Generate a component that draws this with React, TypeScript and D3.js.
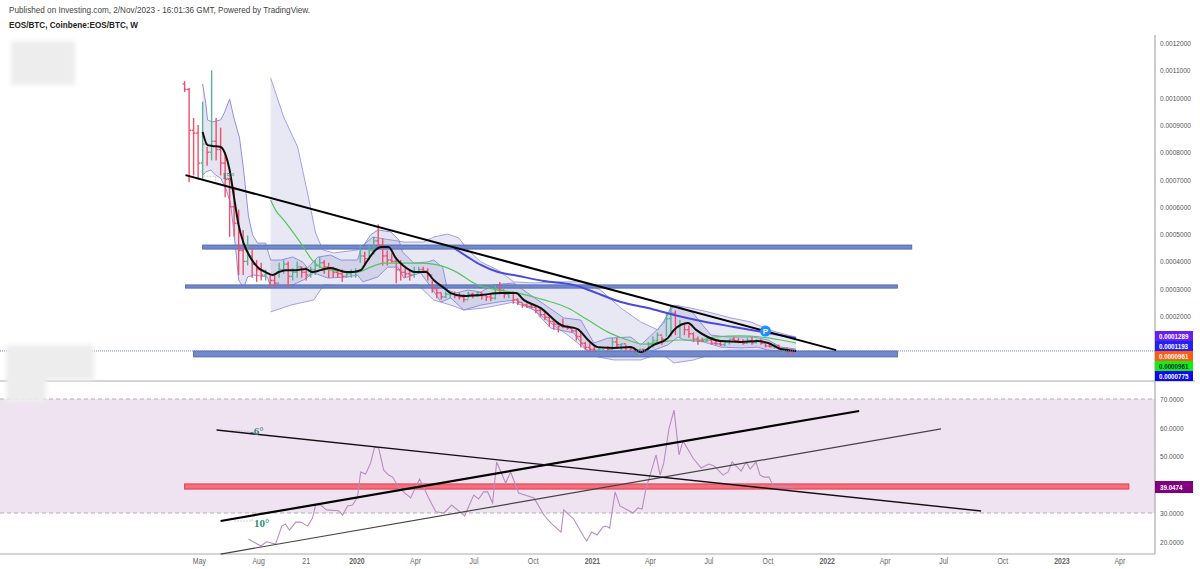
import * as d3 from 'd3';
import React from 'react';

// prices are in units of 0.0001 BTC, one bar per week from firstWeek
const firstWeek = new Date(2019, 3, 8);

const barHigh = [
  10.6, 10.35, 9.25, 9.0, 9.85, 8.2, 11.0, 9.25, 8.9, 8.0,
  7.05, 6.7, 5.9, 5.15, 4.95, 4.5, 4.05, 3.95, 3.7, 3.55,
  3.5, 3.95, 4.05, 4.0, 3.75, 4.0, 3.8, 3.8, 3.8, 4.05,
  4.15, 4.05, 3.95, 3.8, 3.7, 3.7, 3.65, 3.7, 3.75, 4.6,
  4.35, 4.6, 4.9, 5.35, 4.85, 4.4, 4.3, 4.15, 4.05, 3.75,
  3.7, 3.8, 3.8, 3.8, 3.75, 3.3, 3.05, 2.85, 2.9, 2.85,
  2.9, 2.85, 2.8, 2.9, 2.85, 2.9, 2.85, 2.8, 2.8, 3.15,
  3.25, 2.9, 2.9, 2.9, 2.65, 2.45, 2.45, 2.45, 2.4, 2.3,
  2.15, 1.95, 1.8, 1.65, 1.9, 1.65, 1.6, 1.5, 1.4, 1.05,
  1.0, 0.9, 0.85, 0.8, 0.9, 1.2, 1.2, 1.0, 0.95, 0.9,
  0.85, 0.8, 0.8, 1.05, 1.25, 1.4, 1.25, 2.15, 2.4, 2.2,
  1.85, 1.75, 1.65, 1.4, 1.25, 1.2, 1.2, 1.2, 1.15, 1.1,
  1.1, 1.15, 1.25, 1.2, 1.15, 1.2, 1.25, 1.15, 1.15, 1.05,
  1.0, 1.0, 0.95, 0.85, 0.8, 0.75,
];
const barLow = [
  10.2, 6.9, 7.15, 7.0, 7.0, 7.5, 7.7, 7.7, 7.15, 6.35,
  4.9, 4.9, 3.5, 3.5, 3.85, 3.4, 3.25, 3.3, 3.3, 3.05,
  3.05, 3.4, 3.55, 3.05, 3.3, 3.4, 3.4, 3.3, 3.4, 3.5,
  3.75, 3.55, 3.4, 3.4, 3.4, 3.25, 3.4, 3.4, 3.4, 3.95,
  3.85, 4.05, 4.25, 4.55, 3.85, 3.85, 3.95, 3.2, 3.3, 3.4,
  3.3, 3.4, 3.55, 3.6, 3.3, 2.85, 2.65, 2.6, 2.65, 2.65,
  2.65, 2.6, 2.5, 2.65, 2.65, 2.7, 2.6, 2.55, 2.55, 2.6,
  2.8, 2.65, 2.65, 2.45, 2.4, 2.3, 2.3, 2.3, 2.1, 1.95,
  1.85, 1.6, 1.5, 1.4, 1.55, 1.5, 1.4, 1.1, 0.85, 0.75,
  0.7, 0.7, 0.7, 0.7, 0.7, 0.75, 0.8, 0.75, 0.7, 0.7,
  0.65, 0.55, 0.65, 0.7, 0.85, 1.0, 0.95, 1.25, 1.25, 1.3,
  1.2, 1.3, 1.2, 1.05, 0.95, 1.05, 1.05, 0.95, 0.95, 0.9,
  0.9, 0.95, 1.05, 1.0, 0.95, 1.0, 0.95, 1.0, 0.95, 0.85,
  0.85, 0.8, 0.7, 0.65, 0.6, 0.6,
];
const barClose = [
  10.3, 8.8, 8.7, 7.6, 8.3, 8.0, 8.4, 8.1, 7.6, 7.0,
  6.0, 5.4, 4.4, 4.0, 4.2, 3.9, 3.7, 3.5, 3.55, 3.3,
  3.2, 3.7, 3.9, 3.45, 3.6, 3.8, 3.6, 3.5, 3.7, 3.85,
  3.95, 3.8, 3.7, 3.6, 3.55, 3.45, 3.55, 3.6, 3.65, 4.2,
  4.1, 4.4, 4.75, 4.6, 4.2, 4.05, 4.0, 3.7, 3.6, 3.55,
  3.5, 3.6, 3.7, 3.65, 3.5, 3.0, 2.85, 2.7, 2.8, 2.82,
  2.75, 2.7, 2.6, 2.8, 2.75, 2.85, 2.75, 2.7, 2.65, 3.0,
  2.95, 2.8, 2.85, 2.6, 2.5, 2.4, 2.35, 2.32, 2.2, 2.05,
  1.95, 1.8, 1.7, 1.62, 1.6, 1.55, 1.45, 1.25, 1.0, 0.85,
  0.78, 0.74, 0.8, 0.82, 0.78, 1.05, 0.95, 0.98, 0.85, 0.8,
  0.75, 0.78, 0.72, 0.95, 1.1, 1.3, 1.15, 1.9, 2.1, 1.6,
  1.7, 1.5, 1.35, 1.15, 1.1, 1.08, 1.12, 1.0, 0.98, 0.95,
  1.05, 1.15, 1.1, 1.05, 1.0, 1.1, 1.02, 1.08, 1.0, 0.9,
  0.88, 0.92, 0.8, 0.82, 0.72, 0.68,
];

// indicator lines: [week number, value]
const fastMa = [
  [4, 8.74], [5.1, 8.26], [6.2, 8.23], [8, 8.19], [9.1, 7.9], [10, 7.35], [10.9, 6.43], [12, 5.33], [13.1, 4.67],
  [14.7, 4.12], [16.4, 3.76], [18, 3.61], [19.6, 3.5], [20.9, 3.61], [22.4, 3.68], [24.7, 3.68], [26.9, 3.72],
  [28.4, 3.61], [30.2, 3.68], [32.4, 3.76], [34.2, 3.68], [35.8, 3.61], [37.3, 3.61], [39.1, 3.68], [40.4, 3.98],
  [42.4, 4.42], [43.6, 4.53], [45.3, 4.53], [46.9, 4.12], [48.4, 3.87], [51.3, 3.61], [53.6, 3.61], [55.3, 3.32],
  [57.6, 3.03], [59.1, 2.84], [62, 2.73], [65.8, 2.77], [70.2, 2.84], [73.6, 2.84], [75.3, 2.59], [79.1, 2.29],
  [83.6, 1.67], [87.3, 1.52], [89.6, 1.12], [91.8, 0.86], [95.3, 0.83], [99.1, 0.86], [101.3, 0.68], [104.2, 0.94],
  [107.3, 1.19], [108.7, 1.49], [111.8, 1.74], [113.6, 1.49], [116.2, 1.23], [119.1, 1.08], [123.6, 1.05],
  [127.3, 1.08], [129.6, 1.01], [132.4, 0.79], [135.8, 0.72],
];
const innerUpper = [
  [4, 10.5], [4.7, 9.8], [5.1, 9.18], [6.2, 9.11], [8, 9.18], [8.9, 9.47], [10, 9.95], [10.9, 9.29], [12.2, 8.52],
  [13.1, 7.35], [14.2, 5.63], [15.1, 4.97], [16.2, 4.67], [18, 4.67], [19.1, 4.05], [21.3, 4.05], [24, 4.16],
  [26.2, 3.98], [27.3, 3.76], [29.6, 4.16], [32.4, 4.23], [34.7, 4.05], [38.4, 4.05], [39.1, 4.42], [41.3, 4.97],
  [42.9, 5.15], [45.8, 5.08], [47.6, 4.78], [48.4, 4.34], [50.9, 3.94], [54, 3.98], [55.3, 4.05], [57.3, 3.79],
  [58.4, 2.95], [60.2, 2.84], [62.9, 2.95], [65.8, 2.88], [68.7, 3.14], [73.1, 3.21], [76.2, 2.84], [80.7, 2.33],
  [84.2, 1.93], [88, 1.85], [90.9, 1.01], [94, 1.19], [99.1, 1.23], [101.3, 0.94], [104.2, 1.38], [106.4, 1.74],
  [108, 2.33], [109.6, 2.37], [112.9, 2.11], [114.7, 1.74], [116.9, 1.3], [120.7, 1.23], [126.4, 1.23],
  [129.6, 1.12], [132.4, 0.86], [135.8, 0.79],
];
const innerLower = [
  [4, 7.16], [4.7, 7.27], [5.8, 7.35], [6.9, 7.16], [8, 7.05], [9.1, 6.69], [10.2, 6.14], [11.3, 4.53], [12, 3.32],
  [13.1, 3.03], [14, 3.43], [15.3, 3.5], [18.4, 3.43], [19.1, 3.06], [22.9, 3.06], [26.4, 3.32], [28.7, 3.58],
  [31.8, 3.39], [36.2, 3.43], [38.4, 3.5], [39.6, 3.25], [42.9, 3.43], [45.1, 3.79], [47.3, 3.79], [48.7, 3.39],
  [52.4, 3.58], [54.7, 3.06], [56.9, 2.51], [59.1, 2.66], [62, 2.22], [65.8, 2.4], [69.6, 2.51], [73.6, 2.59],
  [77.6, 2.22], [81.3, 1.56], [86.4, 1.38], [89.6, 0.68], [92.4, 0.68], [99.8, 0.68], [103.1, 0.68], [107.3, 0.94],
  [109.6, 1.23], [110.9, 1.12], [115.3, 1.05], [119.1, 0.86], [123.6, 0.83], [127.3, 0.86], [130.9, 0.68], [135.8, 0.68],
];
const outerUpper = [
  [19.1, 10.72], [22, 9.29], [25.1, 8.19], [27.3, 6.51], [29.1, 5.04], [30.7, 4.42], [33.1, 4.31], [38.4, 4.42],
  [41.8, 4.89], [48.7, 4.71], [53.1, 4.71], [55.3, 4.89], [58.4, 5.0], [60.9, 4.86], [62.9, 4.42], [65.8, 3.98],
  [69.6, 3.68], [73.1, 3.25], [77.6, 3.21], [82, 3.25], [88, 3.25], [92.4, 2.95], [96.9, 2.29], [101.3, 1.78],
  [105.1, 1.49], [108.7, 2.4], [112.4, 2.29], [116.2, 2.15], [121.3, 1.93], [125.8, 1.78], [129.8, 1.49], [134, 1.3],
  [135.8, 1.23],
];
const outerLower = [
  [19.1, 2.15], [23.6, 2.4], [28.7, 2.59], [30.9, 3.14], [41.3, 3.06], [51.8, 3.14], [55.3, 2.59], [59.1, 2.4],
  [62, 2.22], [66.4, 2.29], [73.1, 2.51], [77.6, 2.22], [81.3, 1.74], [85.1, 1.3], [88.4, 0.86], [91.8, 0.5],
  [95.3, 0.39], [101.3, 0.39], [105.8, 0.64], [108.7, 0.28], [113.1, 0.39], [117.6, 0.64], [120.7, 0.75],
  [129.6, 0.75], [135.8, 0.68],
];
const greenMa = [
  [19.1, 6.25], [20.2, 5.88], [22, 5.52], [25.8, 4.67], [28.7, 3.98], [30.2, 3.79], [34, 3.65], [38.4, 3.61],
  [41.3, 3.79], [44.2, 3.94], [52.4, 3.94], [56.2, 3.87], [60.7, 3.58], [64.2, 3.21], [69.6, 2.95], [74, 2.84],
  [79.8, 2.59], [85.1, 2.29], [89.6, 1.85], [94, 1.41], [98.4, 1.12], [102, 0.97], [105.8, 1.05], [110.2, 1.12],
  [114.7, 1.12], [117.6, 1.23], [123.6, 1.27], [128, 1.23], [132.4, 1.12], [135.8, 1.01],
];
const blueMa = [
  [59.8, 4.49], [62.9, 4.16], [65.8, 3.87], [69.6, 3.61], [73.1, 3.5], [79.8, 3.28], [86.4, 3.14], [90.9, 2.88],
  [96.9, 2.51], [102.9, 2.29], [108.7, 2.04], [114.7, 1.82], [122, 1.6], [129.6, 1.38], [135.8, 1.19],
];
const rsi = [
  [14.2, 20.9], [16.9, 18.4], [18.2, 19.9], [20.2, 19.1], [21.6, 25.5], [22.4, 26.1], [23.3, 24], [24.7, 26.8],
  [25.8, 26.8], [27.3, 25.4], [28.4, 28.2], [29.1, 32.8], [30.2, 32.8], [31.5, 31.1], [34.2, 30.8], [35.1, 29.3],
  [36.2, 32.5], [37.3, 32.8], [38.4, 35.6], [39.1, 44.4], [40.2, 43.7], [41.3, 47.5], [42.2, 53.2], [43.1, 52.8],
  [44.2, 45.1], [45.3, 43.3], [46.2, 42.6], [47.6, 38.8], [50.2, 35.3], [52.2, 41.9], [54.2, 35.3], [55.8, 30.4],
  [57.6, 30], [59.3, 32.8], [60.9, 30.7], [62.2, 29], [64.2, 36.3], [65.3, 34.9], [66.4, 37.4], [67.3, 37.4],
  [68.4, 33.5], [69.3, 47.9], [71.3, 40.5], [72.4, 44.4], [74.2, 37], [77.6, 35.3], [79.8, 29.3], [81.3, 26.5],
  [83.6, 23.3], [84.2, 31.1], [86.4, 27.9], [88.7, 21.6], [89.3, 20.2], [90.4, 23.3], [91.6, 22.3], [92.9, 25.1],
  [93.6, 25.4], [94.4, 24.7], [95.6, 37.4], [96.7, 32.5], [99.6, 30], [100.7, 31.8], [101.6, 31.4], [102.4, 38.1],
  [104.7, 50.4], [105.6, 43.3], [106.4, 47.5], [107.6, 59.8], [108.7, 66.1], [109.8, 50.4], [110.7, 55.3],
  [112.9, 49.3], [114.7, 45.8], [116.4, 47.2], [117.6, 46.5], [119.6, 43.3], [120.7, 44.4], [121.6, 47.9],
  [123.6, 44.7], [124.7, 47.9], [125.6, 45.4], [126.9, 47.9], [127.8, 43.3], [128.7, 42.6], [129.8, 42.6],
  [130.7, 39.5], [132, 39.5], [135.3, 38.8],
];

// drawn annotations: [week, value] end points, zones: [from week, to week, low, high]
const priceTrend = [[0.2, 7.16], [144.7, 0.75]];
const priceAngle = [[4.2, 7.12], [6.9, 7.12], [6.9, 6.9]];
const priceZones = [
  [4, 161.5, 4.45, 4.6],
  [0.2, 158.3, 3.02, 3.14],
  [2, 158.3, 0.5, 0.72],
];
const rsiZone = [0, 209.7, 38.4, 40.2];
const rsiThick = [[8, 27.2], [149.8, 65.8]];
const rsiRising = [[8, 15.6], [168, 59.5]];
const rsiFalling = [[7.1, 59.1], [176.9, 30.7]];
const rsiFallingAngle = [[10.5, 59.1], [14.5, 58.6], [14.5, 58.0]];
const rsiThickAngle = [[11, 27.2], [15, 27.2], [15, 28.2]];
const lastPriceLevel = 0.72;

const priceTicks = [12, 11, 10, 9, 8, 7, 6, 5, 4, 3, 2];
const rsiTicks = [70, 60, 50, 30, 20];
const rsiBounds = [70, 30];

const timeLabels: [Date, string, boolean][] = [
  [new Date(2019, 4, 1), 'May', false],
  [new Date(2019, 7, 1), 'Aug', false],
  [new Date(2019, 9, 14), '21', false],
  [new Date(2020, 0, 1), '2020', true],
  [new Date(2020, 3, 1), 'Apr', false],
  [new Date(2020, 6, 1), 'Jul', false],
  [new Date(2020, 9, 1), 'Oct', false],
  [new Date(2021, 0, 1), '2021', true],
  [new Date(2021, 3, 1), 'Apr', false],
  [new Date(2021, 6, 1), 'Jul', false],
  [new Date(2021, 9, 1), 'Oct', false],
  [new Date(2022, 0, 1), '2022', true],
  [new Date(2022, 3, 1), 'Apr', false],
  [new Date(2022, 6, 1), 'Jul', false],
  [new Date(2022, 9, 1), 'Oct', false],
  [new Date(2023, 0, 1), '2023', true],
  [new Date(2023, 3, 1), 'Apr', false],
];

const priceBadges = [
  { text: '0.0001289', bg: '#6a1ff0', fg: '#fff' },
  { text: '0.0001193', bg: '#2222f0', fg: '#fff' },
  { text: '0.0000961', bg: '#ff5a12', fg: '#fff' },
  { text: '0.0000961', bg: '#12f012', fg: '#124' },
  { text: '0.0000775', bg: '#0a0af0', fg: '#fff' },
];

const width = 1200;
const height = 569;
const axisX = 1155;
const font = '"Liberation Sans", Arial, sans-serif';
const squeeze = 0.82; // the picture's labels are narrower than the font

const App = () => {
  const x = d3.scaleTime().domain([new Date(2020, 0, 1), new Date(2023, 0, 1)]).range([357, 1062]);
  const y = d3.scaleLinear().domain([12, 2]).range([43, 316]);
  const yRsi = d3.scaleLinear().domain([70, 30]).range([399, 513]);

  const weekX = (w: number) => x(new Date(firstWeek.getTime() + w * 7 * 864e5));

  const priceLine = d3.line<number[]>().x((d) => weekX(d[0])).y((d) => y(d[1]));
  const smoothLine = d3.line<number[]>().x((d) => weekX(d[0])).y((d) => y(d[1])).curve(d3.curveMonotoneX);
  const rsiLine = d3.line<number[]>().x((d) => weekX(d[0])).y((d) => yRsi(d[1]));

  const bandPath = (upper: number[][], lower: number[][]) => `${priceLine([...upper, ...[...lower].reverse()])}Z`;

  return (
    <svg width={width} height={height} style={{ position: 'absolute', left: 0, top: 0, display: 'block', fontFamily: font }}>
      <defs>
        <filter id="smudge" x="-15%" y="-15%" width="130%" height="130%">
          <feGaussianBlur stdDeviation="2" />
        </filter>
      </defs>
      <rect width={width} height={height} fill="#fff" />

      {/* rsi pane background */}
      <rect x={0} y={yRsi(rsiBounds[0])} width={axisX} height={yRsi(rsiBounds[1]) - yRsi(rsiBounds[0])} fill="#f0e3f1" />
      {rsiBounds.map((d) => (
        <line key={d} x1={0} x2={axisX} y1={yRsi(d)} y2={yRsi(d)} stroke="#b9a9b9" strokeDasharray="4 3" />
      ))}

      {/* frame */}
      <line x1={axisX} x2={axisX} y1={35} y2={554} stroke="#aaa" strokeWidth={1.2} />
      <line x1={0} x2={1195} y1={381} y2={381} stroke="#aaa" strokeWidth={1.2} />
      <line x1={0} x2={axisX} y1={554} y2={554} stroke="#aaa" strokeWidth={1.2} />

      {/* bands */}
      <path d={bandPath(outerUpper, outerLower)} fill="#8a8ac8" fillOpacity={0.2} />
      <path d={priceLine(outerUpper) as string} fill="none" stroke="#a59fe6" />
      <path d={priceLine(outerLower) as string} fill="none" stroke="#a59fe6" />
      <path d={bandPath(innerUpper, innerLower)} fill="#7c7cb8" fillOpacity={0.2} />
      <path d={priceLine(innerUpper) as string} fill="none" stroke="#8f8fe6" />
      <path d={priceLine(innerLower) as string} fill="none" stroke="#8f8fe6" />

      {/* zones */}
      {priceZones.map((z, i) => (
        <rect
          key={i}
          x={weekX(z[0])}
          y={y(z[3])}
          width={weekX(z[1]) - weekX(z[0])}
          height={y(z[2]) - y(z[3])}
          fill="#7088cc"
          stroke="#4a62ac"
          strokeWidth={0.8}
        />
      ))}

      {/* weekly bars */}
      {barClose.map((close, i) => {
        const open = i === 0 ? barHigh[0] - 0.1 : barClose[i - 1];
        const color = close >= open ? '#5cb291' : '#ef4f68';
        const bx = weekX(i);
        return (
          <g key={i} stroke={color} strokeWidth={1.4}>
            <line x1={bx} x2={bx} y1={y(barHigh[i])} y2={y(barLow[i])} />
            <line x1={bx - 2} x2={bx} y1={y(open)} y2={y(open)} />
            <line x1={bx} x2={bx + 2} y1={y(close)} y2={y(close)} />
          </g>
        );
      })}

      {/* moving averages */}
      <path d={smoothLine(greenMa) as string} fill="none" stroke="#52c75a" strokeWidth={1.2} />
      <path d={smoothLine(blueMa) as string} fill="none" stroke="#4a4ae0" strokeWidth={2} />
      <path d={smoothLine(fastMa) as string} fill="none" stroke="#111" strokeWidth={2} />

      {/* last price */}
      <line x1={0} x2={axisX} y1={y(lastPriceLevel)} y2={y(lastPriceLevel)} stroke="#6f86cc" strokeDasharray="1 1" />

      {/* trend line */}
      <path d={priceLine(priceAngle) as string} fill="none" stroke="#bbb" strokeWidth={0.7} strokeDasharray="2 1" />
      <path d={priceLine(priceTrend) as string} fill="none" stroke="#000" strokeWidth={2} />
      <text x={222} y={179} fontSize={9} fontWeight="bold" fill="#4a7f86" fontFamily="'Liberation Serif', serif">
        15°
      </text>
      <circle cx={weekX(129)} cy={y(1.45)} r={5.5} fill="#1e90ff" />
      <text x={weekX(129)} y={y(1.45) + 3} fontSize={8} fontWeight="bold" fill="#fff" textAnchor="middle">
        P
      </text>

      {/* rsi */}
      <rect
        x={weekX(rsiZone[0])}
        y={yRsi(rsiZone[3])}
        width={weekX(rsiZone[1]) - weekX(rsiZone[0])}
        height={yRsi(rsiZone[2]) - yRsi(rsiZone[3])}
        fill="#f46f7e"
        stroke="#e83a4c"
      />
      <path d={rsiLine(rsi) as string} fill="none" stroke="#b98cc2" strokeWidth={1.1} />
      <path d={rsiLine(rsiFallingAngle) as string} fill="none" stroke="#bbb" strokeWidth={0.7} strokeDasharray="2 1" />
      <path d={rsiLine(rsiThickAngle) as string} fill="none" stroke="#bbb" strokeWidth={0.7} strokeDasharray="2 1" />
      <path d={rsiLine(rsiThick) as string} fill="none" stroke="#000" strokeWidth={2.2} />
      <path d={rsiLine(rsiRising) as string} fill="none" stroke="#444" strokeWidth={1.2} />
      <path d={rsiLine(rsiFalling) as string} fill="none" stroke="#111" strokeWidth={1.4} />
      <text x={250} y={435} fontSize={11} fontWeight="bold" fill="#4a7f86" fontFamily="'Liberation Serif', serif">
        -6°
      </text>
      <text x={254} y={527} fontSize={11} fontWeight="bold" fill="#2e8f72" fontFamily="'Liberation Serif', serif">
        10°
      </text>

      {/* price axis */}
      {priceTicks.map((t) => (
        <text key={t} transform={`translate(1160,${y(t) + 3}) scale(${squeeze},1)`} fontSize={8} fill="#555">
          {(t * 1e-4).toFixed(7)}
        </text>
      ))}
      {priceBadges.map((b, i) => (
        <g key={i}>
          <rect x={axisX} y={331 + i * 10} width={38} height={10} fill={b.bg} />
          <text transform={`translate(1159,${339 + i * 10}) scale(0.78,1)`} fontSize={8} fontWeight="bold" fill={b.fg}>
            {b.text}
          </text>
        </g>
      ))}

      {/* rsi axis */}
      {rsiTicks.map((t) => (
        <text key={t} transform={`translate(1160,${yRsi(t) + 3}) scale(${squeeze},1)`} fontSize={8} fill="#555">
          {t.toFixed(4)}
        </text>
      ))}
      <rect x={axisX} y={481} width={38} height={12} fill="#800080" />
      <text transform={`translate(1160,490) scale(0.78,1)`} fontSize={8} fontWeight="bold" fill="#fff">
        39.0474
      </text>

      {/* time axis */}
      {timeLabels.map(([date, label, bold]) => (
        <text
          key={`${label}${+date}`}
          transform={`translate(${x(date)},564) scale(${squeeze},1)`}
          fontSize={8.5}
          fontWeight={bold ? 'bold' : 'normal'}
          fill="#666"
          textAnchor="middle"
        >
          {label}
        </text>
      ))}

      {/* blanked out watermarks */}
      <g fill="#ededed" filter="url(#smudge)">
        <rect x={11} y={41} width={64} height={44} />
        <rect x={6} y={345} width={88} height={35} />
        <rect x={6} y={380} width={40} height={22} />
      </g>

      {/* header */}
      <text x={9} y={13} fontSize={9.3} fill="#444" textLength={301} lengthAdjust="spacingAndGlyphs">
        Published on Investing.com, 2/Nov/2023 - 16:01:36 GMT, Powered by TradingView.
      </text>
      <text x={9} y={28} fontSize={9.3} fontWeight="bold" fill="#222" textLength={129} lengthAdjust="spacingAndGlyphs">
        EOS/BTC, Coinbene:EOS/BTC, W
      </text>
    </svg>
  );
};

export default App;
